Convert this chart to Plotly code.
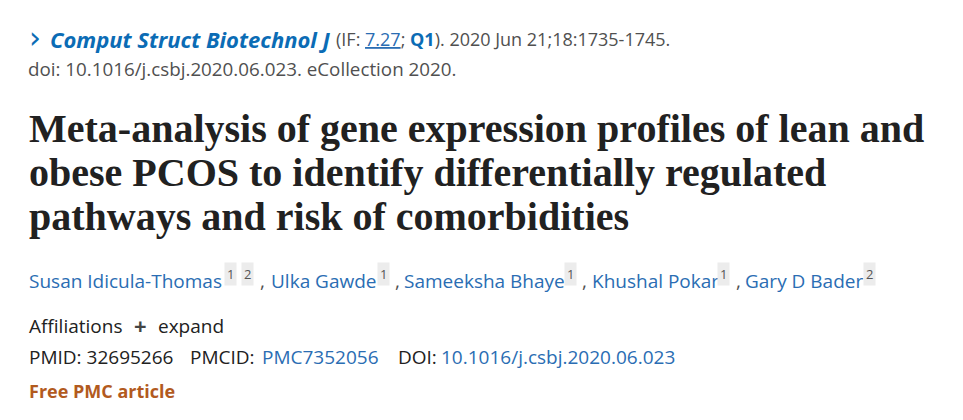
import plotly.graph_objects as go

W, H = 963, 420
OFF = 8  # default page body margin

journal = "Comput Struct Biotechnol J"
impact_factor = "7.27"
quartile = "Q1"
citation = "). 2020 Jun 21;18:1735-1745."
doi_line = "doi: 10.1016/j.csbj.2020.06.023. eCollection 2020."
title_lines = [
    "Meta-analysis of gene expression profiles of lean and",
    "obese PCOS to identify differentially regulated",
    "pathways and risk of comorbidities",
]
authors = ["Susan Idicula-Thomas", "Ulka Gawde", "Sameeksha Bhaye", "Khushal Pokar", "Gary D Bader"]
author_affils = [["1", "2"], ["1"], ["1"], ["1"], ["2"]]
pmid = "32695266"
pmcid = "PMC7352056"
doi = "10.1016/j.csbj.2020.06.023"
free_label = "Free PMC article"

BLUE = "#2a6db3"
LINK = "#0b6cb5"
GRAY = "#505050"
DARK = "#212121"
ORANGE = "#b25a1e"
SANS = "Open Sans, Noto Sans, sans-serif"
SERIF = "Liberation Serif, DejaVu Serif, serif"

ann = []

def add(x, y, text, size=19, color=DARK, family=SANS, bg=None, pad=1):
    d = dict(x=x - 2, y=y, xref="x", yref="y", text=text, showarrow=False,
             xanchor="left", yanchor="middle",
             font=dict(size=size, color=color, family=family))
    if bg:
        d.update(bgcolor=bg, borderpad=pad)
    ann.append(d)

# line 1
add(29, 37, "&#x203A;", size=30, color=LINK, family="DejaVu Sans, sans-serif")
add(50, 39, f"<b><i>{journal}</i></b>", size=22, color=LINK)
add(336, 39,
    f"(IF: <span style='color:{BLUE}'><u>{impact_factor}</u></span>; "
    f"<span style='color:{LINK}'><b>{quartile}</b></span>{citation}",
    size=18, color=GRAY)
add(28, 69, doi_line, size=18.8, color=GRAY)

# title
for i, line in enumerate(title_lines):
    add(29, 128 + 44 * i, f"<b>{line}</b>", size=40, color=DARK, family=SERIF)

# authors
name_x = [29, 271, 404, 592, 745]
comma_x = [None, 260, 395, 582, 736]
sup_x = [[225, 242], [378], [565], [718], [864]]
for a, nx, cx, sx, sups in zip(authors, name_x, comma_x, sup_x, author_affils):
    if cx is not None:
        add(cx, 281, ",", size=19, color=GRAY)
    add(nx, 281, a, size=19, color=BLUE)
    for s, x in zip(sups, sx):
        add(x + 1, 274, s, size=13, color="#555555", bg="#ececec", pad=2)

# affiliations
add(29, 326, "Affiliations", size=19, color=DARK)
add(134, 325, "<b>+</b>", size=22, color="#444444")
add(158, 326, "expand", size=19, color=DARK)

# ids
add(29, 357, f"PMID: {pmid}", size=19, color=DARK)
add(190, 357, "PMCID:", size=19, color=DARK)
add(262, 357, pmcid, size=19, color=BLUE)
add(398, 357, "DOI:", size=19, color=DARK)
add(441, 357, doi, size=19, color=BLUE)

add(29, 391, f"<b>{free_label}</b>", size=18, color=ORANGE)

fig = go.Figure()
fig.update_layout(
    width=W, height=H, margin=dict(l=0, r=0, t=0, b=0),
    paper_bgcolor="white", plot_bgcolor="white",
    xaxis=dict(range=[OFF, W + OFF], visible=False, fixedrange=True),
    yaxis=dict(range=[H + OFF, OFF], visible=False, fixedrange=True),
    annotations=ann, showlegend=False,
)
fig.write_html("out.html", config={"displayModeBar": False})
